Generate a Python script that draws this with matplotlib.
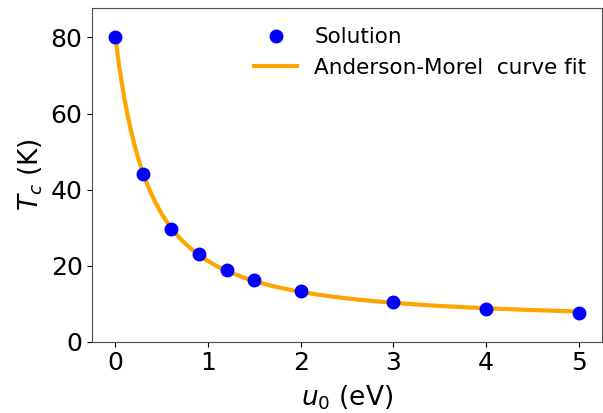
import numpy as np
import matplotlib
matplotlib.use("Agg")
from matplotlib import pyplot as plt

# computed Tc for each Coulomb strength u0
u0 = np.array([0.0, 0.3, 0.6, 0.9, 1.2, 1.5, 2.0, 3.0, 4.0, 5.0])
Tc = np.array([80.0, 44.1, 29.7, 23.0, 18.9, 16.2, 13.3, 10.3, 8.6, 7.6])


def mu_star(u, L):
    return u / (1.0 + u * L)


# fit Tc = A exp(-1/(lam - mu*)), mu* = u0/(1 + u0 L)
# lnA comes out of a log-space least squares for every (lam, L) pair
def fit_am(lam_grid, L_grid):
    lam, L = np.meshgrid(lam_grid, L_grid, indexing="ij")
    x = lam[..., None] - mu_star(u0[None, None, :], L[..., None])
    ok = np.all(x > 0, axis=-1)
    x = np.where(x > 0, x, 1.0)
    lnA = np.mean(np.log(Tc) + 1.0 / x, axis=-1)
    pred = np.exp(lnA[..., None] - 1.0 / x)
    err = np.sum((pred - Tc) ** 2, axis=-1)
    err = np.where(ok, err, np.inf)
    i, j = np.unravel_index(np.argmin(err), err.shape)
    return lam_grid[i], L_grid[j], np.exp(lnA[i, j])


lam_b, L_b, A_b = fit_am(np.linspace(0.2, 2.0, 361), np.linspace(0.1, 8.0, 317))
lam_b, L_b, A_b = fit_am(np.linspace(lam_b - 0.01, lam_b + 0.01, 201),
                         np.linspace(L_b - 0.05, L_b + 0.05, 201))

u_fit = np.linspace(0, 5, 300)
Tc_fit = A_b * np.exp(-1.0 / (lam_b - mu_star(u_fit, L_b)))

fig, ax = plt.subplots(figsize=(6.03, 4.13), dpi=100)
fig.subplots_adjust(left=0.153, right=0.998, top=0.981, bottom=0.173)

ax.plot(u0, Tc, 'o', color='blue', markersize=9, label='Solution', zorder=3)
ax.plot(u_fit, Tc_fit, color='orange', linewidth=3,
        label='Anderson-Morel  curve fit')

ax.set_ylim(0, 87.8)
ax.set_xticks([0, 1, 2, 3, 4, 5])
ax.set_yticks([0, 20, 40, 60, 80])
ax.tick_params(labelsize=18)
ax.set_xlabel(r'$u_0$ (eV)', fontsize=19, labelpad=6)
ax.set_ylabel(r'$T_c$ (K)', fontsize=19, labelpad=4)
for s in ax.spines.values():
    s.set_color('0.3')

ax.legend(loc='upper right', frameon=False, fontsize=15.5,
          bbox_to_anchor=(1.008, 1.0))

fig.savefig('out.png', dpi=100)
